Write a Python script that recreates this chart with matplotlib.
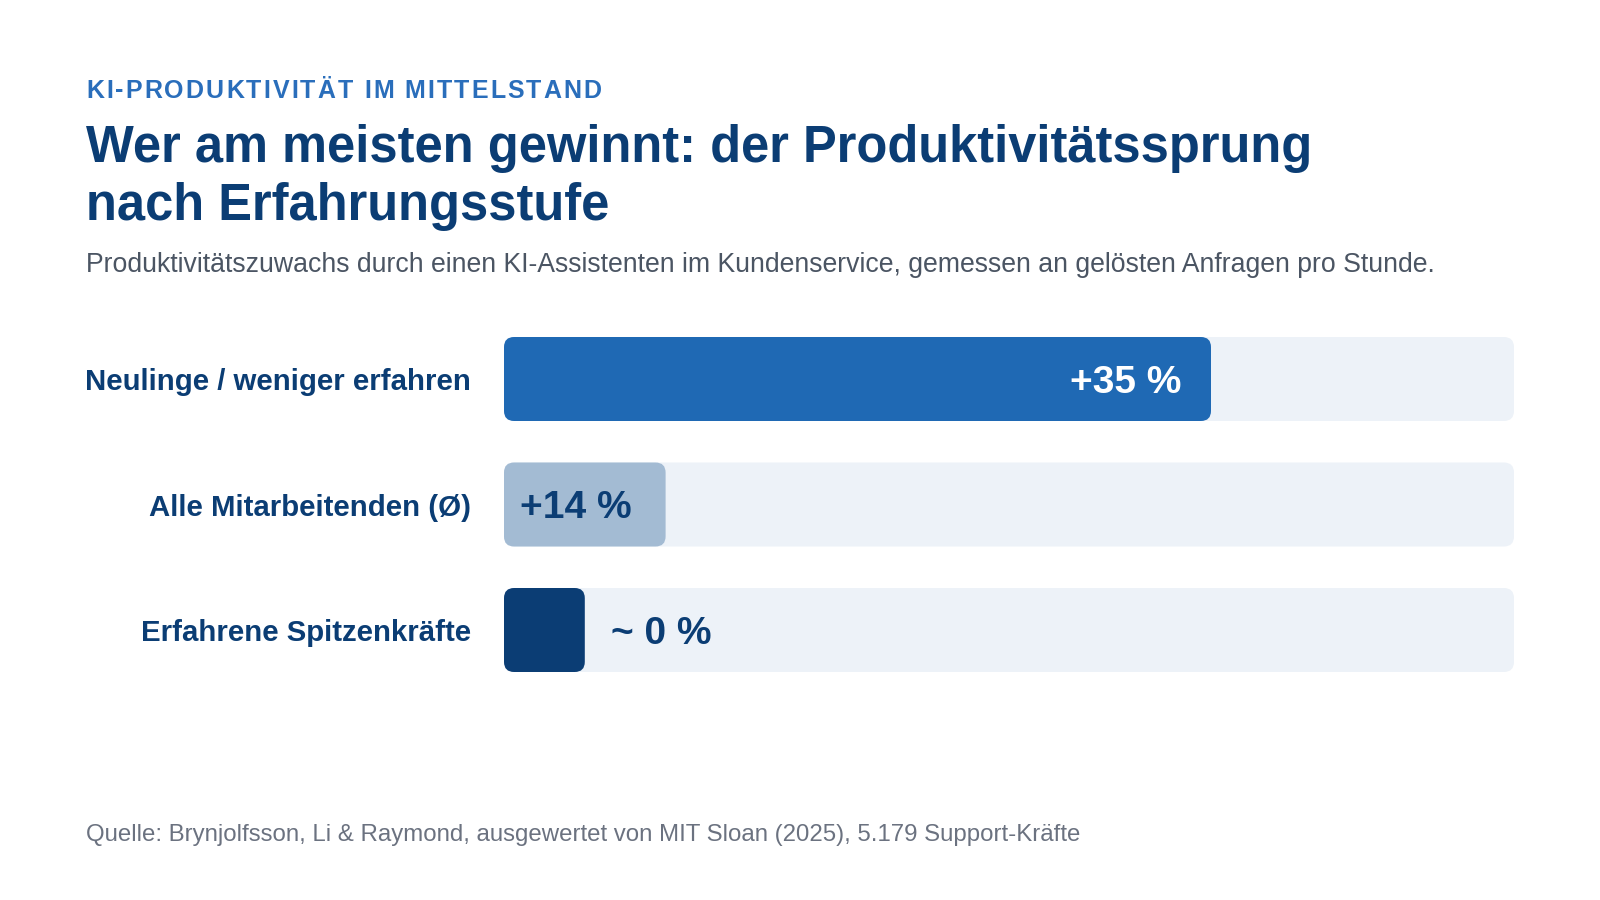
import numpy as np
import matplotlib.pyplot as plt
from matplotlib.patches import FancyBboxPatch

plt.rcParams['font.family'] = ['Liberation Sans', 'DejaVu Sans']

# data
categories = ['Neulinge / weniger erfahren', 'Alle Mitarbeitenden (Ø)', 'Erfahrene Spitzenkräfte']
gain_labels = ['+35 %', '+14 %', '~ 0 %']
bar_share = [70, 16, 8]          # bar length as drawn, in % of the track
label_pos = ['end', 'start', 'outside']

bar_colors = ['#1f69b4', '#a3bbd3', '#0b3d74']
label_colors = ['white', '#0b3d74', '#0b3d74']
navy = '#0b3d74'
track = '#edf2f8'

W, H = 1600, 900
fig = plt.figure(figsize=(16, 9), dpi=100)
fig.patch.set_facecolor('white')
renderer = fig.canvas.get_renderer()


def fy(px):
    return 1 - px / H


def fit(t, width_px):
    w = t.get_window_extent(renderer).width
    t.set_fontsize(t.get_fontsize() * width_px / w)
    return t


def spaced(x, y, s, size, spacing, **kw):
    # draw text letter by letter to get the tracking of the original
    xpos = x
    for ch in s:
        if ch == ' ':
            xpos += 0.278 * size * 100 / 72 + spacing
            continue
        t = fig.text(xpos / W, fy(y), ch, fontsize=size, **kw)
        xpos += t.get_window_extent(renderer).width + spacing
    return xpos


# header
spaced(86, 97.5, 'KI-PRODUKTIVITÄT IM MITTELSTAND', 18, 2.1,
       color='#2a6ebb', fontweight='bold', va='baseline')
t1 = fig.text(86 / W, fy(162), 'Wer am meisten gewinnt: der Produktivitätssprung',
              fontsize=36, fontweight='bold', color=navy, va='baseline')
fit(t1, 1225)
fig.text(86 / W, fy(220), 'nach Erfahrungsstufe', fontsize=t1.get_fontsize(),
         fontweight='bold', color=navy, va='baseline')
sub = fig.text(86 / W, fy(272), 'Produktivitätszuwachs durch einen KI-Assistenten im Kundenservice, '
               'gemessen an gelösten Anfragen pro Stunde.', fontsize=18.5, color='#4b5563', va='baseline')
fit(sub, 1351)
src = fig.text(86 / W, fy(841), 'Quelle: Brynjolfsson, Li & Raymond, ausgewertet von MIT Sloan (2025), '
               '5.179 Support-Kräfte', fontsize=16, color='#6b7280', va='baseline')
fit(src, 994)

# bars
x0, x1 = 504, 1514
row_top, row_step = 316.25, 125.5
ax = fig.add_axes([x0 / W, fy(row_top + 3 * row_step), (x1 - x0) / W, 3 * row_step / H])
ax.set_xlim(0, 100)
ax.set_ylim(2.5, -0.5)
for s in ax.spines.values():
    s.set_visible(False)
ax.set_xticks([])
ax.patch.set_alpha(0)

bar_h = 84 / row_step
aspect = (1 / row_step) / (100 / (x1 - x0))
box = 'round,pad=0,rounding_size=1.0'
for i, share in enumerate(bar_share):
    ax.add_patch(FancyBboxPatch((0, i - bar_h / 2), 100, bar_h, boxstyle=box,
                                mutation_aspect=aspect, fc=track, ec='none'))
    ax.add_patch(FancyBboxPatch((0, i - bar_h / 2), share, bar_h, boxstyle=box,
                                mutation_aspect=aspect, fc=bar_colors[i], ec='none'))
    if label_pos[i] == 'end':
        xy, off, ha = (share, i), -21, 'right'
    elif label_pos[i] == 'start':
        xy, off, ha = (0, i), 11.5, 'left'
    else:
        xy, off, ha = (share, i), 18.7, 'left'
    ax.annotate(gain_labels[i], xy=xy, xytext=(off, 0), textcoords='offset points',
                ha=ha, va='center_baseline', fontsize=28, fontweight='bold', color=label_colors[i])

ax.set_yticks(range(len(categories)), categories)
ax.tick_params(axis='y', length=0, pad=23.8)
tmp = fig.text(0, 0, categories[0], fontsize=21, fontweight='bold')
fit(tmp, 384)
lab_size = tmp.get_fontsize()
tmp.remove()
for lab in ax.get_yticklabels():
    lab.set_fontsize(lab_size)
    lab.set_fontweight('bold')
    lab.set_color(navy)

fig.savefig('out.png', dpi=100, facecolor='white')
